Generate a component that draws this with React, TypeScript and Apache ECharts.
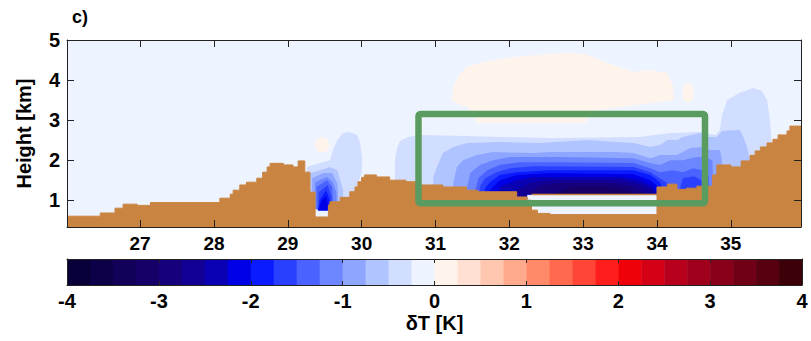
import React, { useEffect, useRef } from "react";
import * as echarts from "echarts";

// ---------- axes ----------
const X_MIN = 26.01;
const X_MAX = 35.95;
const Y_MIN = 0.33;
const Y_MAX = 5;

// ---------- colour bar (δT bins, K) ----------
const CBAR_EDGES = [-4, -3.75, -3.5, -3.25, -3, -2.75, -2.5, -2.25, -2, -1.75, -1.5, -1.25, -1, -0.75, -0.5, -0.25, 0,
  0.25, 0.5, 0.75, 1, 1.25, 1.5, 1.75, 2, 2.25, 2.5, 2.75, 3, 3.25, 3.5, 3.75, 4];
const CBAR_COLORS = [
  "#080038", "#0e0048", "#130058", "#160068", "#16007c", "#120094", "#0a00b4", "#0000e6",
  "#0a1cff", "#2a40ff", "#4a62ff", "#6c86ff", "#8ea6ff", "#b0c4ff", "#d2deff", "#eef4ff",
  "#fff4ec", "#ffe0d2", "#ffc6b0", "#ffaa8c", "#ff8a6a", "#ff6a4e", "#ff4636", "#ff1e1c",
  "#f00008", "#d40016", "#b8001c", "#a0001c", "#88001a", "#700016", "#560010", "#3c0008",
];

// ---------- terrain (x, height km) step profile ----------
const TERRAIN_X = [26.01, 26.46, 26.66, 26.77, 26.96, 27.14, 28.08, 28.22, 28.26, 28.35, 28.44, 28.58, 28.66, 28.72, 28.76,
  28.94, 29.07, 29.14, 29.23, 29.30, 29.37, 29.55, 29.57, 29.71, 29.84, 29.91, 29.95, 30.0, 30.04, 30.2, 30.38, 30.6,
  30.8, 31.1, 31.42, 31.57, 32.1, 32.24, 32.3, 32.38, 32.55, 34.0, 34.14, 34.27, 34.4, 34.54, 34.75, 34.81, 35.0,
  35.14, 35.26, 35.33, 35.4, 35.49, 35.57, 35.64, 35.76, 35.8, 35.95];
const TERRAIN_H = [0.6, 0.68, 0.8, 0.9, 0.87, 0.94, 1.05, 1.15, 1.25, 1.38, 1.45, 1.55, 1.7, 1.83, 1.92,
  1.88, 1.83, 1.98, 1.7, 1.2, 0.58, 0.88, 0.96, 1.07, 1.21, 1.33, 1.46, 1.57, 1.63, 1.58, 1.5, 1.46,
  1.38, 1.33, 1.25, 1.21, 1.08, 1.0, 0.75, 0.67, 0.64, 1.33, 1.4, 1.27, 1.3, 1.35, 1.63, 1.88, 1.83,
  1.98, 2.12, 2.23, 2.33, 2.43, 2.52, 2.63, 2.73, 2.85, 2.85];
const LEDGE = [[32.3, 1.14], [34.0, 1.14]];

// ---------- analysis box ----------
const BOX = [30.77, 0.92, 34.65, 3.15];

// ---------- contour outlines [x, height km] ----------
const WARM_MAIN = [[31.22, 3.5], [31.24, 3.83], [31.33, 4.15], [31.43, 4.33], [31.64, 4.45], [32.1, 4.58], [32.78, 4.68],
  [33.05, 4.63], [33.32, 4.43], [33.68, 4.2], [33.87, 4.25], [34.14, 4.18], [34.22, 3.83], [34.22, 3.5], [33.95, 3.43],
  [33.4, 3.3], [33.05, 3.2], [33.05, 2.93], [31.56, 2.93], [31.5, 3.2], [31.43, 3.33], [31.3, 3.4]];
const WARM_EAST = [[34.34, 3.68], [34.36, 3.85], [34.42, 3.95], [34.48, 3.85], [34.5, 3.68], [34.48, 3.5], [34.42, 3.43], [34.36, 3.5]];
const WARM_WEST = [[29.37, 2.38], [29.39, 2.52], [29.47, 2.58], [29.54, 2.52], [29.57, 2.38], [29.54, 2.24], [29.47, 2.18], [29.39, 2.24]];

const MAIN_L1 = [[30.45, 0.5], [30.45, 2.0], [30.48, 2.3], [30.52, 2.48], [30.63, 2.58], [30.79, 2.63], [31.43, 2.6], [32.55, 2.55],
  [33.77, 2.58], [33.97, 2.63], [34.18, 2.68], [34.58, 2.7], [34.79, 2.63], [34.85, 2.75], [34.88, 3.13], [34.95, 3.5],
  [35.12, 3.68], [35.3, 3.8], [35.42, 3.73], [35.49, 3.5], [35.53, 3.0], [35.55, 2.5], [35.56, 0.5], [34.0, 0.5],
  [34.0, 1.15], [32.24, 1.15], [32.24, 0.5]];
const MAIN_L2 = [[30.97, 0.5], [30.97, 1.58], [31.02, 1.83], [31.1, 2.18], [31.24, 2.33], [31.43, 2.43], [31.87, 2.45],
  [32.42, 2.43], [33.05, 2.5], [33.46, 2.45], [33.68, 2.43], [33.91, 2.33], [34.04, 2.38], [34.14, 2.5], [34.27, 2.5],
  [34.35, 2.58], [34.58, 2.68], [34.69, 2.58], [34.81, 2.58], [34.88, 2.73], [35.12, 2.75], [35.17, 2.58], [35.22, 2.33],
  [35.26, 2.0], [35.26, 0.5], [34.0, 0.5], [34.0, 1.15], [32.24, 1.15], [32.24, 0.5]];
const MAIN_L3 = [[31.24, 0.5], [31.24, 1.43], [31.29, 1.83], [31.37, 2.0], [31.56, 2.13], [31.78, 2.2], [32.32, 2.18],
  [32.55, 2.2], [33.46, 2.2], [33.68, 2.18], [33.91, 2.05], [34.04, 2.13], [34.27, 2.13], [34.45, 2.3], [34.61, 2.33],
  [34.72, 2.25], [34.85, 2.25], [34.88, 2.0], [34.88, 0.5], [34.0, 0.5], [34.0, 1.15], [32.24, 1.15], [32.24, 0.5]];
const MAIN_L4 = [[31.43, 0.5], [31.43, 1.33], [31.47, 1.68], [31.6, 1.88], [31.78, 2.0], [32.01, 2.08], [32.69, 2.08],
  [33.68, 2.05], [33.91, 1.93], [34.04, 1.88], [34.18, 2.0], [34.35, 2.0], [34.54, 2.08], [34.65, 2.08], [34.75, 2.0],
  [34.77, 0.5], [34.0, 0.5], [34.0, 1.15], [32.24, 1.15], [32.24, 0.5]];
const MAIN_L5 = [[31.54, 0.5], [31.54, 1.25], [31.58, 1.55], [31.7, 1.75], [31.87, 1.88], [32.15, 1.95], [32.55, 1.95],
  [33.68, 1.93], [33.91, 1.8], [34.04, 1.7], [34.22, 1.75], [34.35, 1.7], [34.49, 1.8], [34.61, 1.75], [34.7, 1.6],
  [34.72, 0.5], [34.0, 0.5], [34.0, 1.15], [32.24, 1.15], [32.24, 0.5]];
const MAIN_L6 = [[31.6, 0.5], [31.6, 1.33], [31.67, 1.55], [31.83, 1.7], [32.01, 1.8], [32.32, 1.85], [33.68, 1.83],
  [33.91, 1.7], [34.08, 1.5], [34.14, 1.43], [34.14, 0.5], [34.0, 0.5], [34.0, 1.15], [32.24, 1.15], [32.24, 0.5]];
const EAST_L6 = [[34.3, 1.2], [34.35, 1.55], [34.5, 1.6], [34.6, 1.5], [34.62, 1.2]];
const MAIN_L7 = [[31.67, 0.5], [31.67, 1.3], [31.74, 1.45], [31.87, 1.63], [32.1, 1.7], [32.55, 1.75], [33.68, 1.75],
  [33.91, 1.63], [34.04, 1.45], [34.07, 1.3], [34.07, 0.5], [34.0, 0.5], [34.0, 1.15], [32.24, 1.15], [32.24, 0.5]];
const MAIN_L8 = [[31.74, 0.5], [31.74, 1.25], [31.87, 1.5], [32.1, 1.63], [32.55, 1.68], [33.68, 1.65], [33.91, 1.5],
  [34.02, 1.33], [34.02, 1.15], [32.24, 1.15], [32.24, 0.5]];
const MAIN_L9 = [[31.87, 0.5], [31.87, 1.33], [32.1, 1.5], [32.32, 1.58], [33.5, 1.58], [33.77, 1.5], [33.95, 1.33],
  [34.0, 1.15], [32.24, 1.15], [32.24, 0.5]];
const MAIN_L10 = [[32.05, 0.9], [32.1, 1.25], [32.28, 1.43], [32.55, 1.5], [33.5, 1.5], [33.77, 1.4], [33.93, 1.25],
  [33.97, 1.15], [32.24, 1.15], [32.24, 0.9]];
const MAIN_L11 = [[32.24, 1.15], [32.4, 1.35], [32.69, 1.43], [33.4, 1.43], [33.7, 1.33], [33.85, 1.15]];
const MAIN_L12 = [[32.6, 1.15], [32.8, 1.33], [33.3, 1.35], [33.6, 1.25], [33.7, 1.15]];

const WEST_L1 = [[29.26, 1.0], [29.26, 1.83], [29.44, 1.93], [29.57, 2.0], [29.61, 2.25], [29.67, 2.5], [29.75, 2.68],
  [29.84, 2.7], [29.94, 2.63], [29.98, 2.43], [30.01, 2.0], [30.0, 1.68], [29.94, 1.38], [29.94, 1.0]];
const WEST_L2 = [[29.3, 0.8], [29.3, 1.68], [29.44, 1.75], [29.57, 1.83], [29.67, 1.75], [29.71, 1.5], [29.75, 1.25], [29.75, 0.8]];
const WEST_L3 = [[29.33, 0.8], [29.33, 1.55], [29.48, 1.68], [29.6, 1.68], [29.67, 1.43], [29.68, 1.18], [29.68, 0.8]];
const WEST_L4 = [[29.37, 0.78], [29.37, 1.45], [29.53, 1.58], [29.61, 1.45], [29.66, 1.18], [29.66, 0.78]];
const WEST_L5 = [[29.39, 0.76], [29.39, 1.33], [29.53, 1.5], [29.6, 1.33], [29.61, 1.08], [29.61, 0.76]];
const WEST_L6 = [[29.41, 0.75], [29.42, 1.2], [29.54, 1.38], [29.59, 1.1], [29.59, 0.75]];
const WEST_L7 = [[29.41, 0.74], [29.43, 1.0], [29.52, 1.25], [29.57, 1.0], [29.57, 0.74]];
const WEST_L8 = [[29.41, 0.74], [29.46, 1.0], [29.52, 1.1], [29.55, 0.85], [29.54, 0.74]];

// bin = lower edge of the δT bin whose colour fills the region
const CONTOURS = [
  { bin: 0, pts: WARM_MAIN }, { bin: 0, pts: WARM_EAST }, { bin: 0, pts: WARM_WEST },
  { bin: -0.5, pts: MAIN_L1 }, { bin: -0.5, pts: WEST_L1 },
  { bin: -0.75, pts: MAIN_L2 }, { bin: -0.75, pts: WEST_L2 },
  { bin: -1.0, pts: MAIN_L3 }, { bin: -1.0, pts: WEST_L3 },
  { bin: -1.25, pts: MAIN_L4 }, { bin: -1.25, pts: WEST_L4 },
  { bin: -1.5, pts: MAIN_L5 }, { bin: -1.5, pts: WEST_L5 },
  { bin: -1.75, pts: MAIN_L6 }, { bin: -1.75, pts: EAST_L6 }, { bin: -1.75, pts: WEST_L6 },
  { bin: -2.0, pts: MAIN_L7 }, { bin: -2.0, pts: WEST_L7 },
  { bin: -2.25, pts: MAIN_L8 }, { bin: -2.25, pts: WEST_L8 },
  { bin: -2.5, pts: MAIN_L9 },
  { bin: -2.75, pts: MAIN_L10 },
  { bin: -3.0, pts: MAIN_L11 },
  { bin: -3.25, pts: MAIN_L12 },
];

const FONT = "'Liberation Sans', Arial, sans-serif";
const TERRAIN_COLOR = "#ca8441";
const BOX_COLOR = "#5a9b5f";
const AXIS_COLOR = "#222";

function binColor(bin: number) {
  const idx = CBAR_EDGES.findIndex((e) => Math.abs(e - bin) < 1e-9);
  return CBAR_COLORS[Math.max(0, Math.min(CBAR_COLORS.length - 1, idx))];
}

const intLabel = (v: number) => (Math.abs(v - Math.round(v)) < 1e-6 ? String(Math.round(v)) : "");

export default function App() {
  const ref = useRef<HTMLDivElement>(null);

  useEffect(() => {
    if (!ref.current) return;
    const chart = echarts.init(ref.current, null, { renderer: "svg" });

    const labelStyle = { color: "#000", fontWeight: "bold" as const, fontFamily: FONT };
    const tick = { inside: true, length: 7, lineStyle: { color: AXIS_COLOR, width: 1 } };
    const line = { show: true, onZero: false, lineStyle: { color: AXIS_COLOR, width: 1 } };

    const option: any = {
      animation: false,
      backgroundColor: "#ffffff",
      textStyle: { fontFamily: FONT },
      grid: [
        { left: 67, top: 40, width: 734, height: 187, show: true, backgroundColor: "#eef4ff", borderWidth: 0 },
        { left: 67, top: 259, width: 735, height: 26, show: false },
      ],
      xAxis: [
        {
          type: "value", gridIndex: 0, min: X_MIN, max: X_MAX, splitNumber: 10, position: "bottom", z: 10,
          axisLine: line, axisTick: tick, splitLine: { show: false },
          axisLabel: { ...labelStyle, fontSize: 19, margin: 7, formatter: intLabel },
        },
        {
          type: "value", gridIndex: 0, min: X_MIN, max: X_MAX, splitNumber: 10, position: "top", z: 10,
          axisLine: line, axisTick: tick, splitLine: { show: false }, axisLabel: { show: false },
        },
        {
          type: "value", gridIndex: 1, min: -4, max: 4, interval: 1, position: "bottom", z: 10,
          axisLine: line, axisTick: { inside: true, length: 4, lineStyle: { color: AXIS_COLOR } }, splitLine: { show: false },
          axisLabel: { ...labelStyle, fontSize: 20, margin: 6, formatter: intLabel },
          name: "δT [K]", nameLocation: "middle", nameGap: 28,
          nameTextStyle: { ...labelStyle, fontSize: 20 },
        },
        {
          type: "value", gridIndex: 1, min: -4, max: 4, interval: 1, position: "top", z: 10,
          axisLine: line, axisTick: { inside: true, length: 4, lineStyle: { color: AXIS_COLOR } }, splitLine: { show: false },
          axisLabel: { show: false },
        },
      ],
      yAxis: [
        {
          type: "value", gridIndex: 0, min: Y_MIN, max: Y_MAX, splitNumber: 5, position: "left", z: 10,
          axisLine: line, axisTick: tick, splitLine: { show: false },
          axisLabel: { ...labelStyle, fontSize: 20, margin: 7, formatter: intLabel },
          name: "Height [km]", nameLocation: "middle", nameGap: 33, nameRotate: 90,
          nameTextStyle: { ...labelStyle, fontSize: 20 },
        },
        {
          type: "value", gridIndex: 0, min: Y_MIN, max: Y_MAX, splitNumber: 5, position: "right", z: 10,
          axisLine: line, axisTick: tick, splitLine: { show: false }, axisLabel: { show: false },
        },
        {
          type: "value", gridIndex: 1, min: 0, max: 1, position: "left", z: 10,
          axisLine: line, axisTick: { show: false }, splitLine: { show: false }, axisLabel: { show: false },
        },
        {
          type: "value", gridIndex: 1, min: 0, max: 1, position: "right", z: 10,
          axisLine: line, axisTick: { show: false }, splitLine: { show: false }, axisLabel: { show: false },
        },
      ],
      graphic: [
        {
          type: "text", left: 72, top: 8,
          style: { text: "c)", fontSize: 18, fontWeight: "bold", fontFamily: FONT, fill: "#000" },
        },
      ],
      series: [
        {
          type: "custom", name: "dT", coordinateSystem: "cartesian2d", xAxisIndex: 0, yAxisIndex: 0, z: 2,
          data: CONTOURS.map((c) => [c.pts[0][0], c.pts[0][1]]),
          renderItem: (params: any, api: any) => {
            const c = CONTOURS[params.dataIndex];
            return {
              type: "polygon",
              shape: { points: c.pts.map((p) => api.coord(p)) },
              style: { fill: binColor(c.bin), stroke: null },
            };
          },
        },
        {
          type: "line", name: "terrain", xAxisIndex: 0, yAxisIndex: 0, z: 4, step: "end", symbol: "none",
          data: TERRAIN_X.map((x, i) => [x, TERRAIN_H[i]]),
          lineStyle: { color: TERRAIN_COLOR, width: 1 },
          areaStyle: { color: TERRAIN_COLOR, opacity: 1, origin: "start" },
        },
        {
          type: "line", name: "ledge", xAxisIndex: 0, yAxisIndex: 0, z: 4, symbol: "none",
          data: LEDGE, lineStyle: { color: TERRAIN_COLOR, width: 1.5 },
        },
        {
          type: "custom", name: "box", coordinateSystem: "cartesian2d", xAxisIndex: 0, yAxisIndex: 0, z: 6,
          data: [BOX],
          renderItem: (params: any, api: any) => {
            const p0 = api.coord([api.value(0), api.value(3)]);
            const p1 = api.coord([api.value(2), api.value(1)]);
            return {
              type: "rect",
              shape: { x: p0[0], y: p0[1], width: p1[0] - p0[0], height: p1[1] - p0[1], r: 2 },
              style: { fill: null, stroke: BOX_COLOR, lineWidth: 6.5, lineJoin: "round" },
            };
          },
        },
        {
          type: "custom", name: "colorbar", coordinateSystem: "cartesian2d", xAxisIndex: 2, yAxisIndex: 2, z: 2,
          data: CBAR_COLORS.map((_, i) => [CBAR_EDGES[i], CBAR_EDGES[i + 1]]),
          encode: { x: [0, 1] },
          renderItem: (params: any, api: any) => {
            const p0 = api.coord([api.value(0), 1]);
            const p1 = api.coord([api.value(1), 0]);
            return {
              type: "rect",
              shape: { x: p0[0], y: p0[1], width: p1[0] - p0[0] + 0.5, height: p1[1] - p0[1] },
              style: { fill: CBAR_COLORS[params.dataIndex], stroke: null },
            };
          },
        },
      ],
    };

    chart.setOption(option);
    return () => chart.dispose();
  }, []);

  return (
    <div
      ref={ref}
      style={{ position: "fixed", left: 0, top: 0, width: 811, height: 341, background: "#fff" }}
    />
  );
}
